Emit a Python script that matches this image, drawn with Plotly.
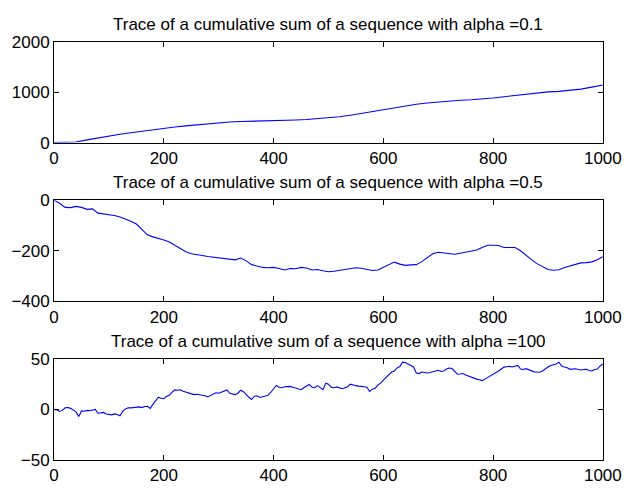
import plotly.graph_objects as go

# Step index values (every 20 / 10 / 5 steps) and the cumulative sums for each alpha
steps_a01 = list(range(0, 1001, 20))
cumsum_a01 = [0, 2, 13, 55, 95, 133, 165, 195, 225, 258, 286, 308, 332, 353, 373, 394,
              410, 418, 422, 426, 432, 440, 448, 458, 472, 489, 512, 542, 580, 615, 648,
              690, 728, 760, 785, 806, 822, 838, 850, 862, 885, 910, 935, 960, 990, 1005,
              1016, 1035, 1060, 1100, 1143]

steps_a05 = list(range(0, 1001, 10))
cumsum_a05 = [0, -12, -28, -29, -24, -28, -36, -34, -51, -54,
              -56, -60, -66, -73, -83, -94, -115, -137, -145, -150,
              -157, -165, -178, -190, -204, -212, -217, -219, -223, -226,
              -229, -231, -233, -236, -229, -240, -255, -262, -266, -267,
              -266, -270, -276, -270, -271, -266, -268, -276, -274, -279,
              -283, -281, -278, -274, -270, -267, -269, -274, -278, -276,
              -265, -255, -245, -253, -258, -256, -255, -243, -227, -212,
              -206, -208, -212, -214, -210, -206, -202, -197, -187, -178,
              -178, -179, -187, -186, -187, -200, -219, -235, -251, -262,
              -274, -277, -275, -266, -260, -253, -248, -247, -244, -236,
              -224]

steps_a100 = list(range(0, 1001, 5))
cumsum_a100 = [0, -0.5, -2, -1, 1.5, 1.8, 1, -1, -2.5, -7,
               -1.5, -1.8, -1, -1.3, -0.5, 0, -3.8, -3.5, -3, -4.5,
               -5, -5.4, -4.5, -5, -6.3, -2, 0.5, 1.6, 1.5, 2,
               2.3, 2.5, 1.8, 2.8, 3, 1, 5, 9, 12, 11,
               10.5, 13, 14, 17, 19.3, 19, 19.5, 18, 17, 16,
               15, 14.6, 15, 14.5, 14.5, 13.5, 12.3, 14, 15, 16.5,
               16, 17, 18, 19.3, 16, 15, 14.6, 16, 19, 17.5,
               14.5, 12, 9.8, 13, 13.5, 11.8, 12.5, 13, 14, 17,
               20, 23.7, 22, 21.5, 22.5, 22.8, 22.8, 22, 21, 20,
               19.5, 21.5, 23.5, 24.7, 22, 21.5, 23.5, 21, 19.5, 26,
               25, 22, 21.5, 22.3, 21, 20.5, 21.5, 22.5, 25, 24,
               23.5, 23, 23, 22.5, 21.9, 17.7, 20, 21, 24, 26,
               29, 32, 34.5, 37, 38, 41, 42.5, 46.8, 46.5, 45,
               43.5, 42, 36, 35.5, 37, 36.5, 36, 36.5, 37, 38,
               38.7, 37.5, 38, 40, 41, 40.5, 38, 34.8, 35, 35.5,
               34, 33, 31.5, 30.5, 30, 29.4, 28.5, 30, 31.5, 33,
               34.8, 36, 38, 40, 41.9, 42.3, 42.6, 42, 42.5, 43.5,
               40, 39.5, 40.3, 39, 38, 37.2, 37, 36.8, 38, 40.3,
               42, 43.5, 44, 45, 46.8, 42.9, 42, 41.3, 39.7, 40,
               40.3, 39.5, 39, 39.5, 39.7, 38.5, 38, 39.5, 40, 43,
               45]

titles = ["Trace of a cumulative sum of a sequence with alpha =0.1",
          "Trace of a cumulative sum of a sequence with alpha =0.5",
          "Trace of a cumulative sum of a sequence with alpha =100"]
y_ranges = [[0, 2000], [-400, 0], [-50, 50]]
y_ticks = [[0, 1000, 2000], [-400, -200, 0], [-50, 0, 50]]
x_ticks = [0, 200, 400, 600, 800, 1000]

W, H = 644, 491
x_left, x_right = 51, 621
boxes = [(34, 139), (199, 304), (364, 469)]  # top/bottom pixel rows of each panel

series = [(steps_a01, cumsum_a01), (steps_a05, cumsum_a05), (steps_a100, cumsum_a100)]

fig = go.Figure()
font = dict(family="Liberation Sans, Arial, Helvetica, sans-serif", color="black")

for i, ((xs, ys), (top, bot)) in enumerate(zip(series, boxes)):
    n = "" if i == 0 else str(i + 1)
    fig.add_trace(go.Scatter(x=xs, y=ys, mode="lines",
                             line=dict(color="#0000ff", width=1.1),
                             xaxis="x" + n, yaxis="y" + n, showlegend=False))
    axis_common = dict(showgrid=False, zeroline=False, showline=True, linecolor="black",
                       linewidth=1, mirror="ticks", ticks="inside", ticklen=5,
                       tickcolor="black", tickwidth=1,
                       tickfont=dict(size=17, **font))
    fig.layout["xaxis" + n] = dict(
        domain=[x_left / W, x_right / W], range=[0, 1000],
        tickvals=x_ticks, anchor="y" + n, **axis_common)
    fig.layout["yaxis" + n] = dict(
        domain=[1 - bot / H, 1 - top / H], range=y_ranges[i],
        tickvals=y_ticks[i], anchor="x" + n, **axis_common)
    fig.add_annotation(text=titles[i], x=(x_left + x_right) / 2 / W, y=1 - top / H,
                       xref="paper", yref="paper", xanchor="center", yanchor="bottom",
                       yshift=6, showarrow=False, font=dict(size=17, **font))

fig.update_layout(width=W, height=H, margin=dict(l=0, r=0, t=0, b=0),
                  paper_bgcolor="white", plot_bgcolor="white")

fig.write_html("out.html")
